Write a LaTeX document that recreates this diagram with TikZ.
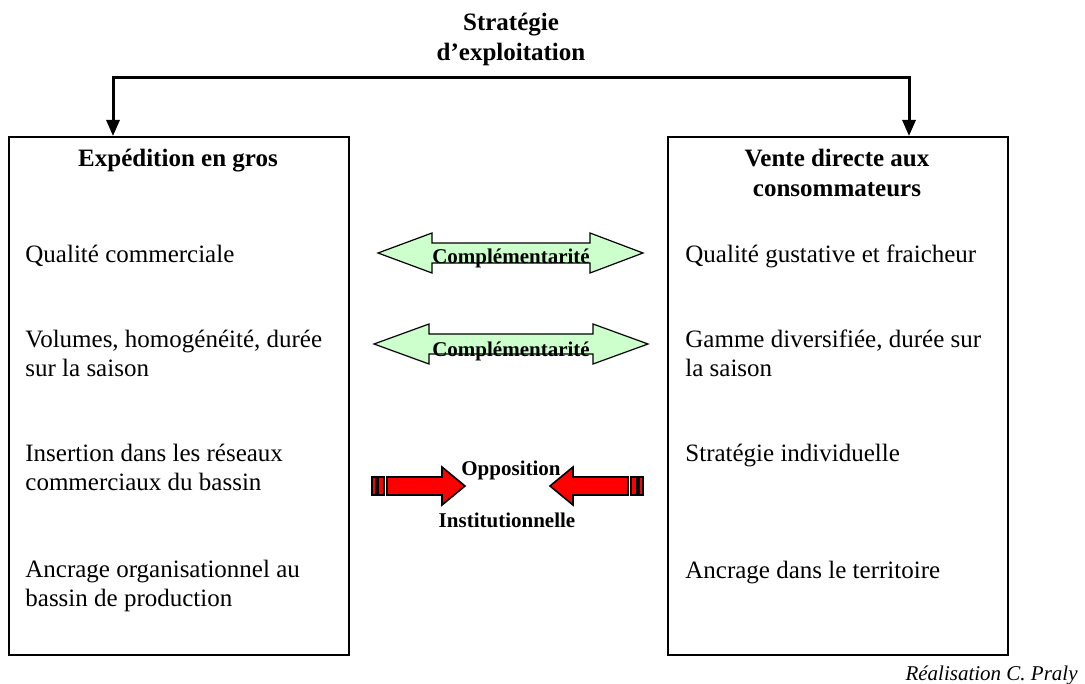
\documentclass[tikz,border=0pt]{standalone}
\usepackage{fontspec}
\setmainfont{Liberation Serif}
\usetikzlibrary{positioning,arrows.meta}
\definecolor{compgreen}{HTML}{CCFFCC}
\definecolor{oppred}{HTML}{FF0000}

\begin{document}
\begin{tikzpicture}[x=0.5pt,y=-0.5pt,>={Triangle[length=8pt,width=6.5pt]},
    every node/.style={font=\fontsize{12.5}{14.5}\selectfont,inner sep=0pt},
    colbox/.style={draw,line width=1pt,minimum width=170pt,minimum height=259pt,anchor=north west},
    headtext/.style={font=\fontsize{12.5}{15}\selectfont\bfseries,align=center,anchor=base},
    itemtext/.style={align=left,anchor=base west},
    tagtext/.style={font=\fontsize{10.5}{12}\selectfont\bfseries,anchor=base},
    comparrow/.style={draw,line width=0.6pt,fill=compgreen},
    opparrow/.style={draw,line width=0.8pt,fill=oppred}]
        \useasboundingbox (0,0) rectangle (1085,684);
        % titre et fourche (base = derniere ligne)
        \node[headtext] (titre) at (511,61) {Stratégie\\d’exploitation};
        \node[colbox] (exped) at (8,136) {};
        \node[colbox] (vente) at (667,136) {};
        \coordinate (fork) at (511,78);
        \coordinate (inexped) at (113,136);
        \coordinate (invente) at (909,136);
        \draw[->,line width=1.5pt] (fork) -| (inexped);
        \draw[->,line width=1.5pt] (fork) -| (invente);
        % expédition en gros
        \node[headtext] (hexped) at (178,167) {Expédition en gros};
        \node[itemtext] (e1) at (25,262) {Qualité commerciale};
        \node[itemtext] (e2) at (25,376) {Volumes, homogénéité, durée\\sur la saison};
        \node[itemtext] (e3) at (25,490) {Insertion dans les réseaux\\commerciaux du bassin};
        \node[itemtext] (e4) at (25,606) {Ancrage organisationnel au\\bassin de production};
        % vente directe
        \node[headtext] (hvente) at (837,197) {Vente directe aux\\consommateurs};
        \node[itemtext] (v1) at (685,262) {Qualité gustative et fraicheur};
        \node[itemtext] (v2) at (685,376) {Gamme diversifiée, durée sur\\la saison};
        \node[itemtext] (v3) at (685,461) {Stratégie individuelle};
        \node[itemtext] (v4) at (685,578) {Ancrage dans le territoire};
        % complémentarité
        \draw[comparrow] (378,253) -- (432,233) -- (432,243) -- (590,243) -- (590,233) -- (643,253)
            -- (590,273) -- (590,263) -- (432,263) -- (432,273) -- cycle;
        \node[tagtext] (c1) at (511,263) {Complémentarité};
        \draw[comparrow] (374,344) -- (429,324) -- (429,334) -- (593,334) -- (593,324) -- (648,344)
            -- (593,364) -- (593,354) -- (429,354) -- (429,364) -- cycle;
        \node[tagtext] (c2) at (511,356) {Complémentarité};
        % opposition
        \draw[opparrow] (372,477) rectangle (376,495);
        \draw[opparrow] (378,477) rectangle (384,495);
        \draw[opparrow] (387,477) -- (442,477) -- (442,467) -- (465,486) -- (442,505) -- (442,495) -- (387,495) -- cycle;
        \draw[opparrow] (643,477) rectangle (639,495);
        \draw[opparrow] (637,477) rectangle (631,495);
        \draw[opparrow] (628,477) -- (573,477) -- (573,467) -- (550,486) -- (573,505) -- (573,495) -- (628,495) -- cycle;
        \node[tagtext] (opp) at (511,475) {Opposition};
        \node[tagtext] (inst) at (507,527) {Institutionnelle};
        % auteur
        \node[font=\fontsize{10.5}{12}\selectfont\itshape,anchor=base east] (credit) at (1078,680) {Réalisation C. Praly};
\end{tikzpicture}
\end{document}
